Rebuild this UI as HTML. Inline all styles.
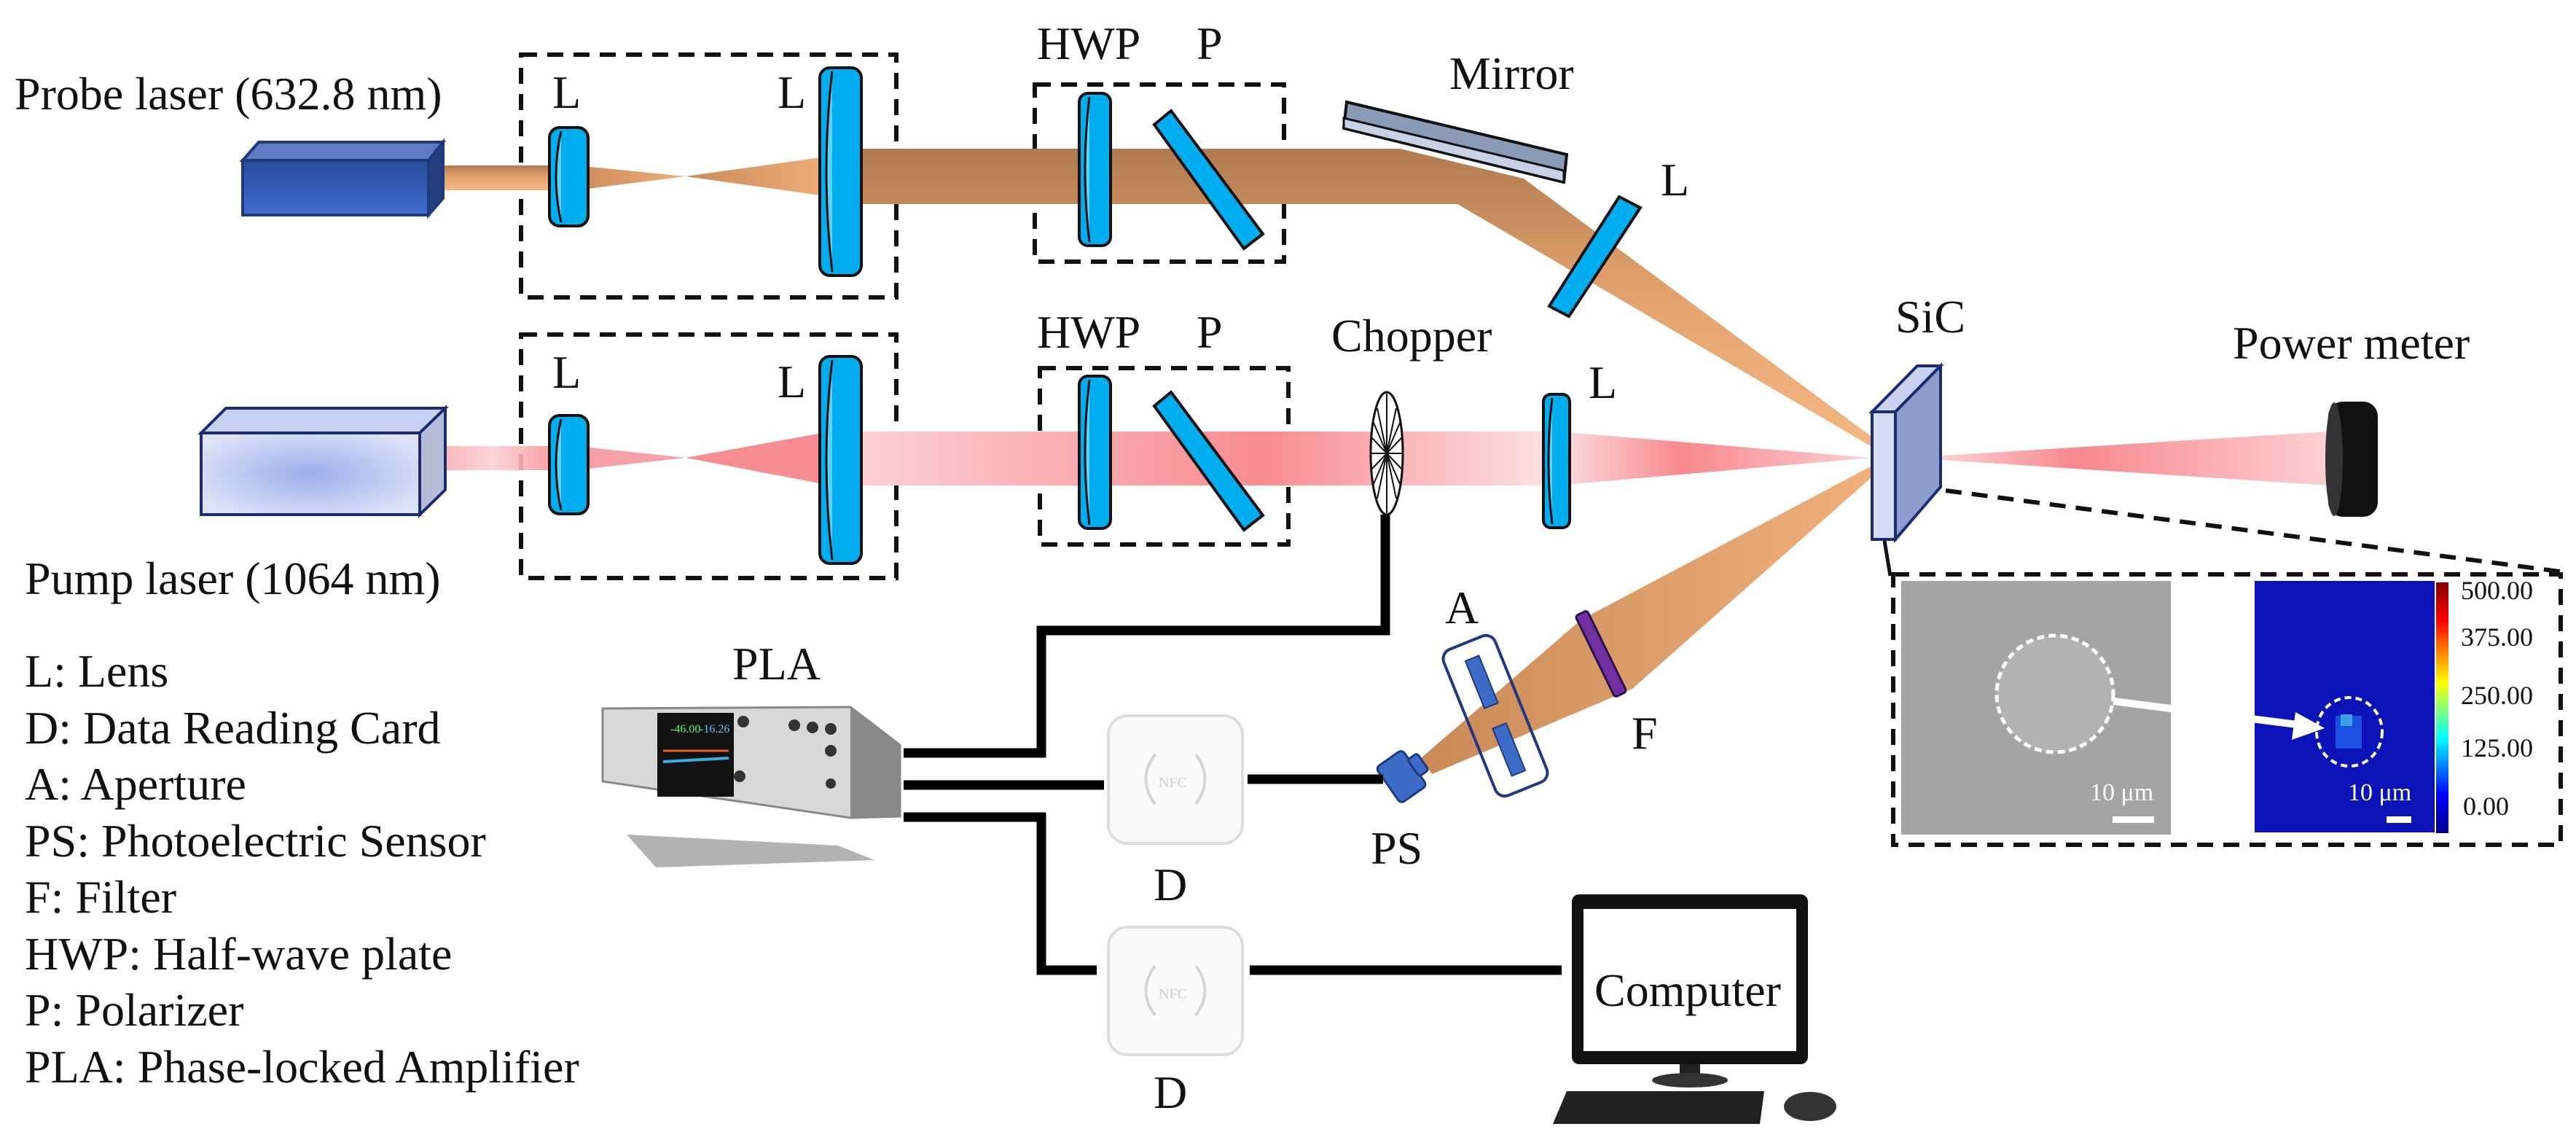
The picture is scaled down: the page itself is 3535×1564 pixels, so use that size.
<!DOCTYPE html>
<html><head><meta charset="utf-8"><style>
html,body{margin:0;padding:0;background:#fff;}
svg{display:block;}
svg text{font-family:"Liberation Serif","DejaVu Serif","Noto Serif CJK SC",serif;}
</style></head><body>
<svg width="3535" height="1564" viewBox="0 0 3535 1564" xmlns="http://www.w3.org/2000/svg">
<defs>
<linearGradient id="orange" x1="0" y1="0" x2="0" y2="1">
<stop offset="0" stop-color="#b07a50"/><stop offset="0.45" stop-color="#e0a06c"/><stop offset="1" stop-color="#f4b884"/></linearGradient>
<linearGradient id="orangeD" x1="0" y1="0" x2="1" y2="0">
<stop offset="0" stop-color="#c88a58"/><stop offset="1" stop-color="#f0b07c"/></linearGradient>
<linearGradient id="pink" x1="0" y1="0" x2="1" y2="0">
<stop offset="0" stop-color="#f5a0a4"/><stop offset="0.5" stop-color="#fbd0d2"/><stop offset="1" stop-color="#f78a90"/></linearGradient>
<linearGradient id="pink2" x1="0" y1="0" x2="1" y2="0">
<stop offset="0" stop-color="#fcd4d6"/><stop offset="0.6" stop-color="#f78c92"/><stop offset="1" stop-color="#fde0e0"/></linearGradient>
<linearGradient id="pink3" x1="0" y1="0" x2="1" y2="0">
<stop offset="0" stop-color="#fde0e0"/><stop offset="0.4" stop-color="#f7888e"/><stop offset="1" stop-color="#fcd0d2"/></linearGradient>
<radialGradient id="pumpbox" cx="0.5" cy="0.5" r="0.6"><stop offset="0" stop-color="#9aaeea"/><stop offset="1" stop-color="#dde4f8"/></radialGradient>
<linearGradient id="probebox" x1="0" y1="0" x2="0" y2="1"><stop offset="0" stop-color="#2a4c9a"/><stop offset="1" stop-color="#3f6ccc"/></linearGradient>
<linearGradient id="cbar" x1="0" y1="1" x2="0" y2="0">
<stop offset="0" stop-color="#00008f"/><stop offset="0.15" stop-color="#0000ff"/><stop offset="0.38" stop-color="#00ffff"/><stop offset="0.6" stop-color="#ffff00"/><stop offset="0.85" stop-color="#ff0000"/><stop offset="1" stop-color="#800000"/></linearGradient>
</defs>

<!-- labels -->
<g font-size="64" fill="#111" font-family="Liberation Serif, DejaVu Serif, serif">
<text x="20" y="150">Probe laser (632.8 nm)</text>
<text x="34" y="815">Pump laser (1064 nm)</text>
<text x="758" y="148">L</text><text x="1067" y="148">L</text>
<text x="758" y="532">L</text><text x="1067" y="545">L</text>
<text x="1423" y="81">HWP</text><text x="1642" y="81">P</text>
<text x="1423" y="477">HWP</text><text x="1642" y="477">P</text>
<text x="1989" y="122">Mirror</text>
<text x="2279" y="268">L</text>
<text x="1827" y="482">Chopper</text>
<text x="2180" y="546">L</text>
<text x="2601" y="456">SiC</text>
<text x="3064" y="492">Power meter</text>
<text x="1983" y="855">A</text>
<text x="2239" y="1027">F</text>
<text x="1881" y="1185">PS</text>
<text x="1005" y="932">PLA</text>
<text x="1583" y="1235">D</text>
<text x="1583" y="1520">D</text>
<text x="34" y="942">L: Lens</text>
<text x="34" y="1020">D: Data Reading Card</text>
<text x="34" y="1097">A: Aperture</text>
<text x="34" y="1175">PS: Photoelectric Sensor</text>
<text x="34" y="1252">F: Filter</text>
<text x="34" y="1330">HWP: Half-wave plate</text>
<text x="34" y="1407">P: Polarizer</text>
<text x="34" y="1485">PLA: Phase-locked Amplifier</text>
</g>

<!-- dashed boxes -->
<g fill="none" stroke="#111" stroke-width="6" stroke-dasharray="22,14">
<rect x="715" y="75" width="515" height="333"/>
<rect x="1420" y="116" width="342" height="243"/>
<rect x="715" y="459" width="515" height="334"/>
<rect x="1427" y="505" width="341" height="242"/>
<rect x="2598" y="788" width="916" height="371"/>
<line x1="2670" y1="673" x2="3520" y2="785"/>
</g>
<line x1="2586" y1="742" x2="2594" y2="790" stroke="#111" stroke-width="5"/>

<!-- probe beam -->
<rect x="588" y="227" width="190" height="34" fill="url(#orange)"/>
<polygon points="790,227 941,242 790,261" fill="url(#orangeD)"/>
<polygon points="941,242 1140,214 1140,270" fill="url(#orangeD)"/>
<polygon points="1150,204 1921,204 2091,245 2567,598 2567,612 2000,280 1150,280" fill="url(#orange)"/>
<!-- pump beam -->
<rect x="576" y="612" width="200" height="33" fill="url(#pink)" opacity="0.9"/>
<polygon points="790,612 941,628 790,645" fill="#f4a0a6"/>
<polygon points="941,628 1140,592 1140,666" fill="#f58c92"/>
<rect x="1150" y="592" width="970" height="74" fill="url(#pink2)"/>
<polygon points="2136,592 2567,628 2136,666" fill="url(#pink3)"/>
<polygon points="2620,628 3195,592 3195,666" fill="url(#pink3)"/>
<!-- lower probe beam to PS -->
<polygon points="2567,640 2567,656 2240,945 1965,1062 1950,1040 2170,850" fill="url(#orangeD)"/>

<!-- lasers -->
<polygon points="333,220 355,195 608,195 588,220" fill="#5d7cc2" stroke="#203a80" stroke-width="4"/>
<polygon points="588,220 608,195 608,272 588,295" fill="#23407f" stroke="#203a80" stroke-width="4"/>
<rect x="333" y="220" width="255" height="75" fill="url(#probebox)" stroke="#203a80" stroke-width="4"/>
<polygon points="276,594 310,560 611,560 576,594" fill="#c7d2f2" stroke="#1c2c70" stroke-width="4"/>
<polygon points="576,594 611,560 611,672 576,706" fill="#b4bdd8" stroke="#1c2c70" stroke-width="4"/>
<rect x="276" y="594" width="300" height="112" fill="url(#pumpbox)" stroke="#1c2c70" stroke-width="4"/>

<!-- lenses -->
<g stroke="#111" stroke-width="4" fill="#00aeef">
<rect x="754" y="175" width="53" height="135" rx="14"/>
<rect x="1125" y="93" width="57" height="285" rx="14"/>
<rect x="754" y="570" width="53" height="135" rx="14"/>
<rect x="1125" y="489" width="57" height="284" rx="14"/>
<rect x="1481" y="128" width="43" height="209" rx="12"/>
<rect x="1481" y="516" width="43" height="209" rx="12"/>
<rect x="2118" y="541" width="36" height="183" rx="10"/>
</g>
<g stroke="#111" stroke-width="3" fill="#5fd0f8">
<path d="M770,180 Q756,242 770,305"/><path d="M1142,98 Q1126,235 1142,373"/>
<path d="M770,575 Q756,637 770,700"/><path d="M1142,494 Q1126,631 1142,768"/>
<path d="M1495,133 Q1483,232 1495,332"/><path d="M1495,521 Q1483,620 1495,720"/>
<path d="M2130,546 Q2120,632 2130,719"/>
</g>
<!-- polarizers -->
<g stroke="#111" stroke-width="4" fill="#00aeef">
<polygon points="1584,171 1607,152 1733,321 1707,341"/>
<polygon points="1584,557 1607,538 1733,707 1707,727"/>
</g>
<!-- mirror -->
<polygon points="1848,140 2150,212 2146,250 1844,176" fill="#8a9bb8" stroke="#111" stroke-width="4"/>
<polygon points="1844,162 2146,234 2146,250 1844,176" fill="#c8d2e6" stroke="#111" stroke-width="3"/>
<!-- tilted L on probe -->
<polygon points="2222,270 2251,285 2153,434 2126,420" fill="#00aeef" stroke="#111" stroke-width="4"/>
<!-- chopper -->
<ellipse cx="1903" cy="622" rx="22" ry="84" fill="#fff" stroke="#111" stroke-width="3"/>
<g stroke="#111" stroke-width="2">
<line x1="1903" y1="540" x2="1903" y2="704"/><line x1="1885" y1="580" x2="1921" y2="664"/><line x1="1921" y1="580" x2="1885" y2="664"/>
<line x1="1882" y1="622" x2="1924" y2="622"/><line x1="1890" y1="560" x2="1916" y2="684"/><line x1="1916" y1="560" x2="1890" y2="684"/>
<line x1="1882" y1="600" x2="1924" y2="644"/><line x1="1924" y1="600" x2="1882" y2="644"/>
</g>
<!-- SiC -->
<polygon points="2569,565 2631,502 2663,502 2601,565" fill="#c9d2f2" stroke="#1c2c70" stroke-width="4"/>
<polygon points="2601,565 2663,502 2663,668 2601,740" fill="#8c9ccc" stroke="#1c2c70" stroke-width="4"/>
<rect x="2569" y="565" width="32" height="175" fill="#d4dcf6" stroke="#1c2c70" stroke-width="4"/>
<!-- power meter -->
<rect x="3195" y="551" width="68" height="158" rx="20" fill="#111"/>
<ellipse cx="3203" cy="630" rx="12" ry="78" fill="#333"/>

<!-- F and A, PS -->
<g transform="translate(2197,897) rotate(-26)"><rect x="-9" y="-62" width="18" height="124" rx="4" fill="#7030a0" stroke="#2a1050" stroke-width="3"/></g>
<g transform="translate(2052,982) rotate(-22)">
<rect x="-38" y="-108" width="76" height="216" rx="14" fill="none" stroke="#1f3a80" stroke-width="4"/>
<rect x="-10" y="-85" width="20" height="70" fill="#3c6cc8" stroke="#1f3a80" stroke-width="2"/>
<rect x="-10" y="15" width="20" height="70" fill="#3c6cc8" stroke="#1f3a80" stroke-width="2"/>
</g>
<g transform="translate(1928,1062) rotate(-35)">
<rect x="-28" y="-30" width="44" height="60" rx="6" fill="#3c6cc8" stroke="#1f3a80" stroke-width="3"/>
<rect x="14" y="-14" width="16" height="28" rx="4" fill="#3c6cc8" stroke="#1f3a80" stroke-width="3"/>
</g>

<!-- cables -->
<g stroke="#000" stroke-width="13" fill="none">
<polyline points="1240,1033 1429,1033 1429,865 1901,865 1901,706"/>
<line x1="1240" y1="1077" x2="1515" y2="1077"/>
<line x1="1712" y1="1069" x2="1898" y2="1069"/>
<polyline points="1240,1121 1429,1121 1429,1331 1505,1331"/>
<line x1="1715" y1="1331" x2="2143" y2="1331"/>
</g>

<!-- D cards -->
<g fill="#fafafa" stroke="#ddd" stroke-width="4">
<rect x="1521" y="982" width="184" height="175" rx="26"/>
<rect x="1521" y="1272" width="184" height="175" rx="26"/>
</g>
<g fill="none" stroke="#d4d4d4" stroke-width="4">
<path d="M1585,1035 Q1560,1069 1585,1103"/><path d="M1641,1035 Q1666,1069 1641,1103"/>
<path d="M1585,1325 Q1560,1359 1585,1393"/><path d="M1641,1325 Q1666,1359 1641,1393"/>
</g>
<text x="1590" y="1080" font-size="20" fill="#ccc">NFC</text>
<text x="1590" y="1370" font-size="20" fill="#ccc">NFC</text>

<!-- PLA device -->
<polygon points="860,1145 1150,1160 1200,1180 900,1190" fill="#666" opacity="0.5"/>
<polygon points="827,972 1167,970 1235,1022 1235,1120 1167,1122 827,1072" fill="#d8d8d8" stroke="#888" stroke-width="3"/>
<polygon points="1167,970 1235,1022 1235,1120 1167,1122" fill="#888"/>
<rect x="902" y="978" width="105" height="115" fill="#111"/>
<line x1="910" y1="1030" x2="1000" y2="1030" stroke="#e86020" stroke-width="3"/>
<line x1="910" y1="1045" x2="1000" y2="1040" stroke="#3ab0e0" stroke-width="4"/>
<text x="920" y="1005" font-size="16" fill="#5f5">-46.00</text>
<text x="960" y="1005" font-size="16" fill="#5cf">-16.26</text>
<g fill="#333"><circle cx="1020" cy="990" r="8"/><circle cx="1090" cy="995" r="8"/><circle cx="1115" cy="998" r="8"/><circle cx="1140" cy="1000" r="8"/><circle cx="1140" cy="1030" r="8"/><circle cx="1015" cy="1065" r="8"/><circle cx="1140" cy="1075" r="7"/></g>

<!-- Computer -->
<rect x="2157" y="1227" width="324" height="233" rx="10" fill="#111"/>
<rect x="2173" y="1247" width="292" height="195" fill="#fff"/>
<text x="2188" y="1380" font-size="64" fill="#111">Computer</text>
<rect x="2305" y="1460" width="28" height="14" fill="#222"/>
<ellipse cx="2319" cy="1482" rx="52" ry="10" fill="#333"/>
<polygon points="2150,1497 2421,1497 2415,1542 2131,1542" fill="#222"/>
<ellipse cx="2484" cy="1518" rx="36" ry="20" fill="#333"/>

<!-- inset -->
<rect x="2609" y="797" width="370" height="348" fill="#a3a5a3"/>
<circle cx="2820" cy="952" r="80" fill="#b0b3b1" stroke="#fff" stroke-width="5" stroke-dasharray="10,6"/>
<rect x="3094" y="797" width="247" height="345" fill="#0a12b8"/>
<rect x="3205" y="982" width="36" height="45" fill="#1a50e0"/>
<rect x="3212" y="980" width="16" height="16" fill="#3aa0e8"/>
<ellipse cx="3224" cy="1004" rx="45" ry="47" fill="none" stroke="#fff" stroke-width="4" stroke-dasharray="9,6"/>
<line x1="2900" y1="962" x2="3160" y2="995" stroke="#fff" stroke-width="10"/>
<polygon points="3190,999 3150,977 3145,1015" fill="#fff"/>
<text x="2868" y="1098" font-size="34" fill="#fff">10 μm</text>
<rect x="2899" y="1120" width="57" height="9" fill="#fff"/>
<text x="3222" y="1098" font-size="34" fill="#fff">10 μm</text>
<rect x="3275" y="1120" width="34" height="9" fill="#fff"/>
<rect x="3343" y="799" width="17" height="344" fill="url(#cbar)"/>
<g font-size="36" fill="#111"><text x="3377" y="822">500.00</text><text x="3377" y="886">375.00</text><text x="3377" y="966">250.00</text><text x="3377" y="1038">125.00</text><text x="3380" y="1118">0.00</text></g>
</svg>
</body></html>
